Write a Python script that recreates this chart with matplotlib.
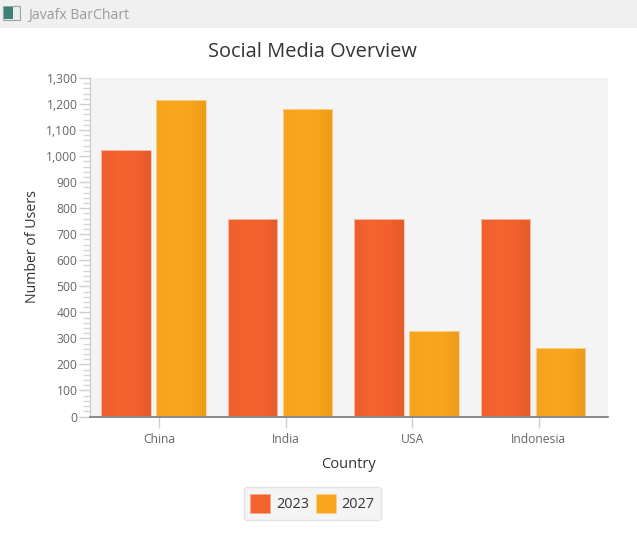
import matplotlib
matplotlib.use("Agg")
import matplotlib.pyplot as plt
import numpy as np
from matplotlib.colors import LinearSegmentedColormap
from matplotlib.patches import Patch, Rectangle

countries = ["China", "India", "USA", "Indonesia"]
users_2023 = [1023, 758, 758, 758]
users_2027 = [1215, 1180, 328, 263]
y_ticks = list(range(0, 1301, 100))

W, H = 637, 542
plt.rcParams["font.family"] = ["Open Sans", "DejaVu Sans"]


def draw_bars(ax, xs, vals, width, cmap, edge):
    # JavaFX bars have a slight horizontal gradient, so paint one into each bar
    grad = np.array([[0, 0.25, 0.5, 0.75, 1.0]])
    bars = ax.bar(xs, vals, width, color="none", edgecolor=edge, lw=0.6, zorder=3)
    for b in bars:
        im = ax.imshow(
            grad, cmap=cmap, vmin=0, vmax=1, aspect="auto", interpolation="bilinear",
            extent=(b.get_x(), b.get_x() + b.get_width(), 0, b.get_height()), zorder=2,
        )
        im.set_clip_path(b)


fig = plt.figure(figsize=(W / 100, H / 100), dpi=100, facecolor="white")

# window title bar
fig.add_artist(Rectangle((0, 1 - 28 / H), 1, 28 / H, transform=fig.transFigure, fc="#f0f0f0", ec="none"))
fig.add_artist(Rectangle((3 / W, 1 - 20 / H), 17 / W, 14 / H, transform=fig.transFigure, fc="#e8eeee", ec="#9aa5a5", lw=0.8))
fig.add_artist(Rectangle((4 / W, 1 - 19 / H), 9 / W, 12 / H, transform=fig.transFigure, fc="#3f8078", ec="none"))
fig.text(28 / W, 1 - 15 / H, "Javafx BarChart", fontsize=10.1, color="#9a9a9a", va="center")

ax = fig.add_axes([90 / W, 1 - 416.5 / H, 518 / W, 338.5 / H], facecolor="#f4f4f4")

x = np.arange(len(countries))
orange_red = LinearSegmentedColormap.from_list("or", ["#f05f2e", "#f4622e", "#f4622e", "#f2602d", "#e85c2b"])
orange = LinearSegmentedColormap.from_list("og", ["#f6a41c", "#faa61c", "#faa61c", "#f8a51b", "#ef9d18"])
draw_bars(ax, x - 0.222, users_2023, 0.391, orange_red, "#f6c9b6")
draw_bars(ax, x + 0.212, users_2027, 0.391, orange, "#f8d5a0")

ax.set_xlim(-0.506, 3.589)
ax.set_ylim(0, 1300)
ax.set_yticks(y_ticks, [f"{v:,}" for v in y_ticks])
ax.set_yticks(range(0, 1301, 20), minor=True)
ax.set_xticks(x + 0.04, countries)

ax.tick_params(axis="y", which="major", length=8, width=1, color="#cfcfcf", labelsize=8.7, labelcolor="#666666", pad=1)
ax.tick_params(axis="y", which="minor", length=5, width=1, color="#d6d6d6")
ax.tick_params(axis="x", length=8, width=1, color="#cfcfcf", labelsize=8.7, labelcolor="#666666", pad=4)

for s in ("top", "right"):
    ax.spines[s].set_visible(False)
ax.spines["left"].set_color("#c8c8c8")
ax.spines["bottom"].set_color("#777777")
ax.spines["bottom"].set_linewidth(1.2)
ax.spines["bottom"].set_zorder(5)

fig.text(312.5 / W, 1 - 52 / H, "Social Media Overview", fontsize=14.4, color="#333333", ha="center", va="center")
fig.text(349 / W, 1 - 464.5 / H, "Country", fontsize=10.5, color="#333333", ha="center", va="center")
fig.text(32 / W, 1 - 247 / H, "Number of Users", fontsize=10.2, color="#333333", rotation=90, ha="center", va="center")

handles = [Patch(fc="#f4622e", ec="#f6a98c", lw=0.5), Patch(fc="#faa61c", ec="#f8cf8c", lw=0.5)]
fig.legend(
    handles, ["2023", "2027"], ncol=2, loc="center", bbox_to_anchor=(312.5 / W, 1 - 503.5 / H),
    fontsize=10.4, labelcolor="#333333", handlelength=1.38, handleheight=1.75, handletextpad=0.42,
    columnspacing=0.45, borderpad=0.42, borderaxespad=0, frameon=True, fancybox=True,
    facecolor="#f4f4f4", edgecolor="#e2e2e2", framealpha=1,
)

fig.savefig("out.png", dpi=100)
plt.close(fig)
